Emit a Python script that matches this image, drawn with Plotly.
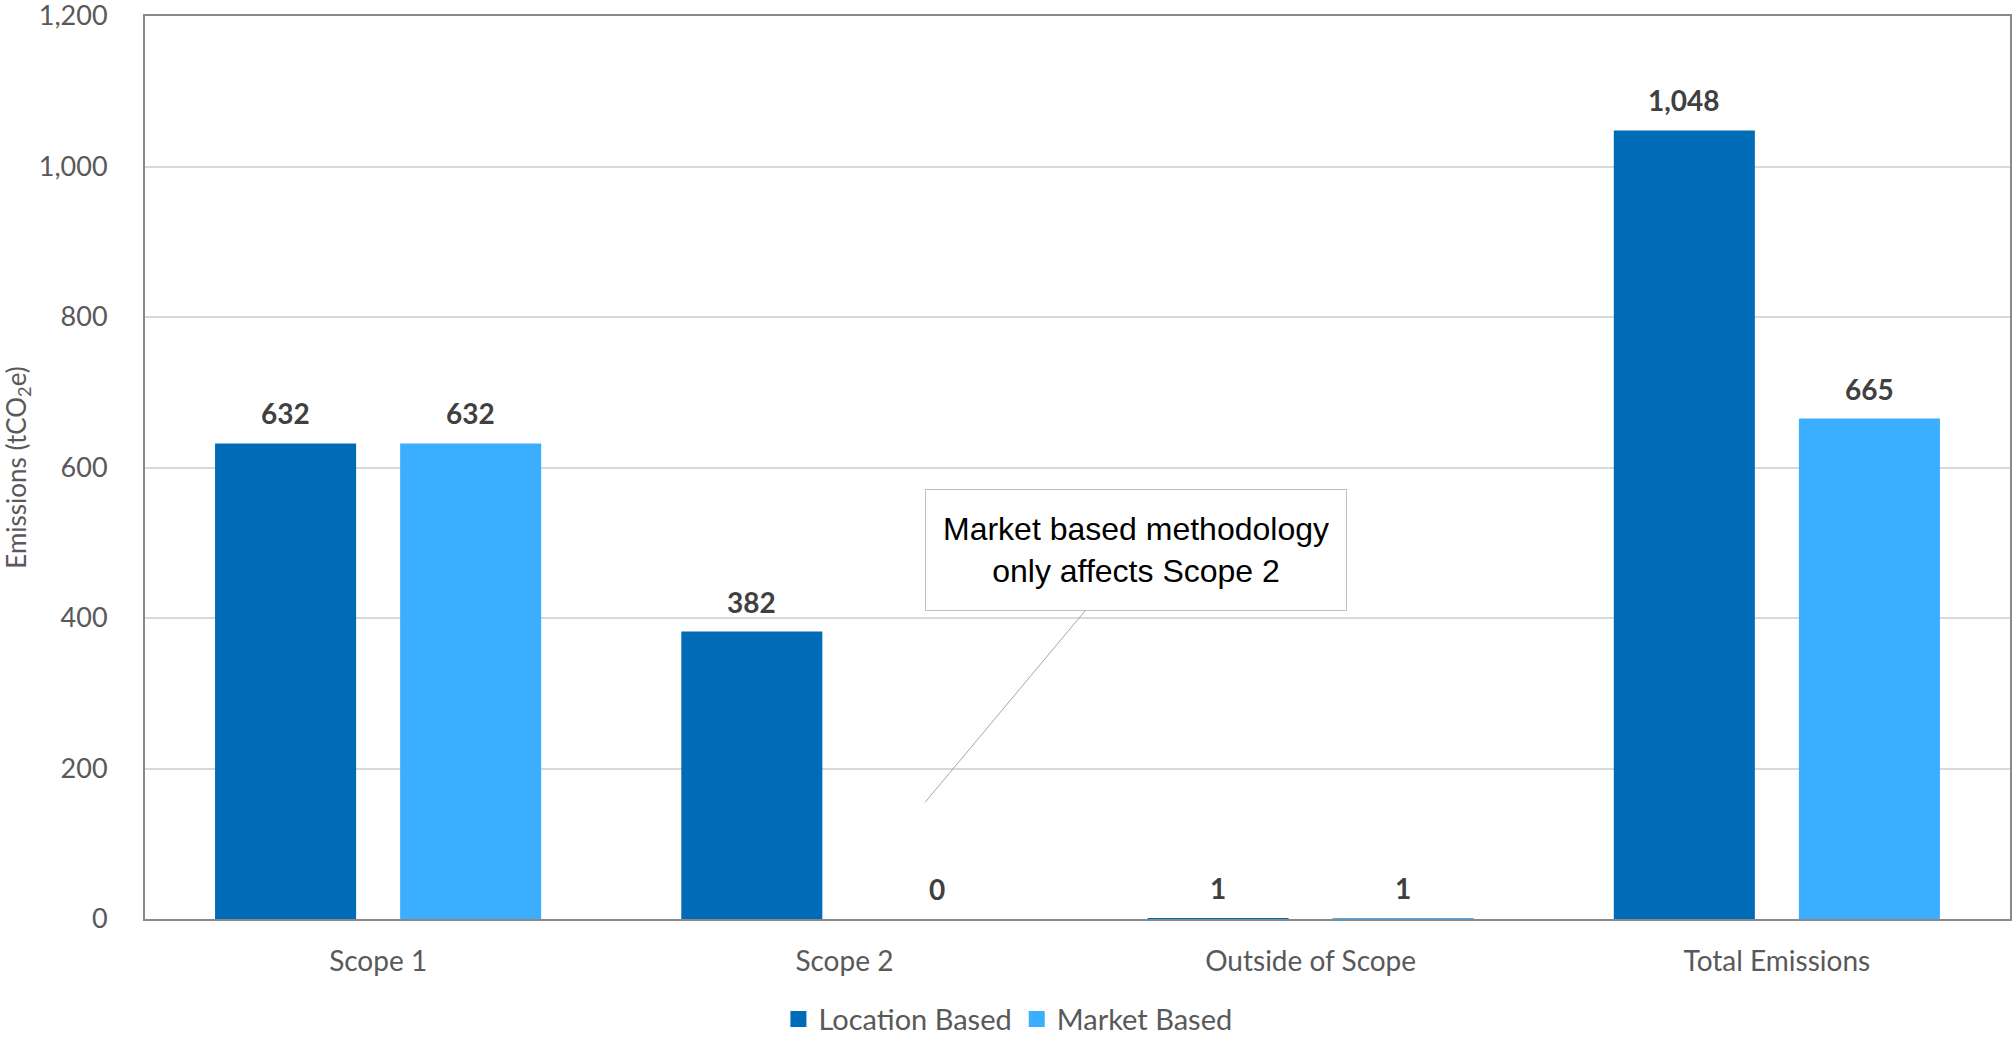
import plotly.graph_objects as go

categories = ["Scope 1", "Scope 2", "Outside of Scope", "Total Emissions"]
location_based = [632, 382, 1, 1048]
market_based = [632, 0, 1, 665]
label_location = ["632", "382", "1", "1,048"]
label_market = ["632", "0", "1", "665"]
series_names = ["Location Based", "Market Based"]
y_ticks = [0, 200, 400, 600, 800, 1000, 1200]

C_LOC = "#006BB6"
C_MKT = "#3CAEFF"
FONT = "Lato, Open Sans, sans-serif"

BARGAP = 0.206
fig = go.Figure()
fig.add_trace(go.Bar(x=categories, y=location_based, name=series_names[0],
                     marker=dict(color=C_LOC, line=dict(width=0)), showlegend=False))
fig.add_trace(go.Bar(x=categories, y=market_based, name=series_names[1],
                     marker=dict(color=C_MKT, line=dict(width=0)), showlegend=False))
# legend entries with larger square swatches
for nm, col in ((series_names[0], C_LOC), (series_names[1], C_MKT)):
    fig.add_trace(go.Scatter(x=[None], y=[None], mode="markers", name=nm,
                             marker=dict(symbol="square", size=17, color=col)))

# data labels above each bar
off = (1 - BARGAP) / 4
for i in range(len(categories)):
    for val, lab, sgn in ((location_based[i], label_location[i], -1),
                          (market_based[i], label_market[i], 1)):
        fig.add_annotation(x=i + sgn * off, y=val, text=lab, showarrow=False,
                           xref="x", yref="y", yshift=30, yanchor="middle",
                           font=dict(family=FONT, size=28, color="#404040", weight="bold"))

# callout
fig.add_annotation(x=1.173, y=155, ax=1.6255, ay=490.5, xref="x", yref="y",
                   axref="x", ayref="y",
                   text="Market based methodology<br>only affects Scope 2",
                   showarrow=True, arrowhead=0, arrowwidth=1, arrowcolor="#A6A6A6",
                   font=dict(family="Liberation Sans, Arial, sans-serif", size=32, color="#000000"),
                   bgcolor="#FFFFFF", bordercolor="#BFBFBF", borderwidth=1,
                   width=386, height=86, borderpad=17, align="center")

fig.update_layout(
    width=2013, height=1038,
    margin=dict(l=145, r=3, t=16, b=119, autoexpand=False),
    paper_bgcolor="white", plot_bgcolor="white",
    barmode="group", bargap=BARGAP, bargroupgap=0.238,
    font=dict(family=FONT, size=27, color="#595959"),
    showlegend=True,
    legend=dict(orientation="h", x=0.4627, xanchor="center", y=-0.111, yanchor="middle",
                font=dict(family=FONT, size=29, color="#595959"),
                itemwidth=30, tracegroupgap=0),
)
fig.update_xaxes(showline=True, linecolor="#898989", linewidth=2, mirror=True,
                 showgrid=False, ticks="", ticklabelstandoff=16, automargin=False,
                 tickfont=dict(family=FONT, size=28, color="#595959"))
fig.update_yaxes(range=[0, 1200], tickvals=y_ticks, tickformat=",",
                 showline=True, linecolor="#898989", linewidth=2, mirror=True,
                 showgrid=True, gridcolor="#D9D9D9", gridwidth=1.5,
                 zeroline=False, ticks="", ticklabelstandoff=30, automargin=False,
                 ticklabeloverflow="allow",
                 tickfont=dict(family=FONT, size=27, color="#595959"),
                 title=dict(text="Emissions (tCO<sub>2</sub>e)", standoff=12,
                            font=dict(family=FONT, size=26, color="#595959")))

fig.write_html("out.html")
